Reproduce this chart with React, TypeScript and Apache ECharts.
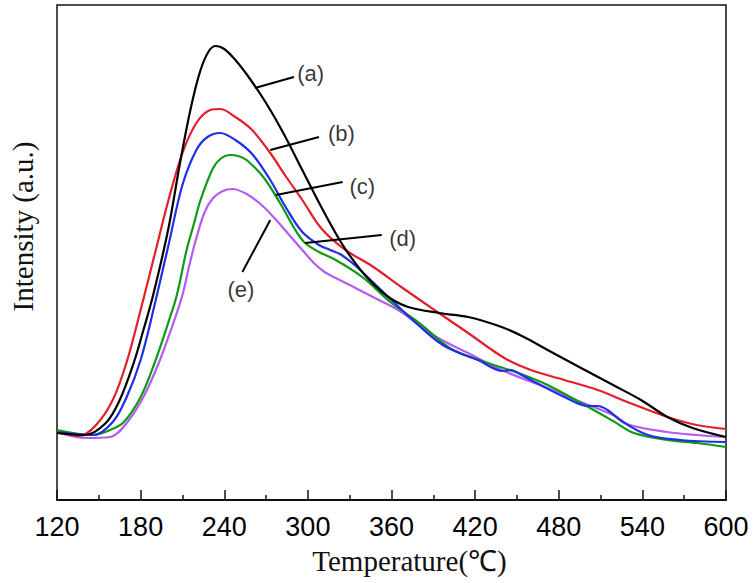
import React, { useEffect, useRef } from "react";
import * as echarts from "echarts";

// Temperature (°C), intensity (a.u.)
const curveA: [number, number][] = [
  [120, 67], [140, 65], [155, 77], [165, 100], [175, 137], [182, 170], [189, 205], [200, 272],
  [208, 335], [216, 392], [223, 430], [229, 449], [234, 454], [240, 451], [248, 440], [258, 422],
  [270, 397], [282, 368], [296, 330], [310, 292], [325, 255], [339, 228], [350, 212], [360, 201],
  [372, 193], [394, 187], [415, 183], [439, 173], [455, 163], [472, 150], [496, 132], [519, 115],
  [539, 100], [558, 83], [576, 72], [600, 63],
];
const curveB: [number, number][] = [
  [120, 68], [136, 64], [148, 75], [160, 100], [170, 138], [180, 190], [190, 245], [200, 300],
  [210, 347], [220, 377], [230, 390], [237, 391], [248, 383], [260, 370], [273, 347], [284, 324],
  [296, 300], [310, 271], [327, 250], [346, 234], [367, 213], [394, 187], [415, 167], [441, 142],
  [460, 130], [484, 120], [508, 110], [531, 97], [558, 83], [579, 75], [600, 71],
];
const curveC: [number, number][] = [
  [120, 68], [146, 65], [160, 78], [170, 103], [180, 140], [190, 195], [200, 255], [210, 315],
  [220, 350], [228, 363], [237, 367], [248, 360], [260, 346], [273, 320], [284, 293], [296, 268],
  [308, 255], [316, 250], [323, 246], [331, 238], [339, 228], [360, 200], [380, 174], [398, 154],
  [422, 140], [440, 129], [446, 130], [452, 126], [460, 120], [484, 103], [501, 94], [508, 94],
  [515, 90], [526, 78], [544, 65], [567, 60], [600, 58],
];
const curveD: [number, number][] = [
  [120, 70], [146, 65], [158, 70], [168, 78], [180, 103], [190, 137], [200, 178], [206, 205],
  [213, 250], [218, 275], [223, 300], [232, 332], [238, 342], [244, 345], [250, 344], [256, 340],
  [268, 323], [280, 297], [291, 270], [298, 257], [308, 248], [320, 240], [339, 223], [360, 197],
  [380, 177], [403, 151], [427, 138], [451, 127], [472, 115], [496, 97], [519, 79], [534, 67],
  [558, 60], [579, 57], [600, 53],
];
const curveE: [number, number][] = [
  [120, 68], [141, 62], [158, 63], [170, 77], [182, 103], [193, 137], [203, 175], [210, 205],
  [215, 235], [220, 262], [226, 288], [232, 302], [239, 309], [246, 311], [256, 306], [266, 296],
  [276, 282], [286, 266], [296, 250], [305, 236], [312, 228], [320, 222], [330, 215], [351, 200],
  [367, 188], [391, 164], [415, 147], [439, 130], [472, 112], [496, 98], [519, 85], [531, 75],
  [558, 68], [579, 65], [600, 63],
];

const seriesNames = ["(a)", "(b)", "(c)", "(d)", "(e)"];
const seriesColors = ["#000000", "#e41e2b", "#1f2fe6", "#0f9a14", "#b45cf2"];
// leader lines: from a point on the curve to the label side, then label position
const leaderFrom: [number, number][] = [[262, 412], [273, 350], [277, 305], [298, 257], [273, 280]];
const leaderTo: [number, number][] = [[290, 423], [308, 363], [325, 318], [353, 265], [253, 228]];
const labelAt: [number, number][] = [[302, 427], [324, 367], [339, 314], [368, 262], [252, 211]];

const xTicks = [120, 180, 240, 300, 360, 420, 480, 540, 600];

export default function App() {
  const ref = useRef<HTMLDivElement>(null);
  useEffect(() => {
    if (!ref.current) return;
    const chart = echarts.init(ref.current, null, { renderer: "svg" });
    const curves = [curveA, curveB, curveC, curveD, curveE];
    const series: any[] = curves.map((c, i) => ({
      type: "line",
      name: seriesNames[i],
      data: c,
      smooth: 0.35,
      showSymbol: false,
      symbol: "none",
      lineStyle: { color: seriesColors[i], width: 2.2 },
      z: 5 - i,
      markLine: {
        silent: true,
        symbol: "none",
        animation: false,
        label: { show: false },
        lineStyle: { color: "#000", width: 2, type: "solid" },
        data: [[{ coord: leaderFrom[i] }, { coord: leaderTo[i] }]],
      },
    }));
    series.push({
      type: "scatter",
      symbol: "circle",
      symbolSize: 1,
      itemStyle: { color: "rgba(0,0,0,0)" },
      data: labelAt.map((p, i) => ({ value: p, name: seriesNames[i] })),
      label: {
        show: true,
        position: "inside",
        formatter: (p: any) => p.name,
        color: "#000",
        fontSize: 22,
        fontFamily: "Liberation Sans, Arial, sans-serif",
      },
      z: 10,
    });
    chart.setOption({
      animation: false,
      backgroundColor: "#fff",
      grid: {
        left: 53,
        right: 28,
        top: 5,
        bottom: 83,
        show: true,
        borderColor: "#111",
        borderWidth: 1.5,
        backgroundColor: "transparent",
      },
      xAxis: {
        type: "value",
        min: 120,
        max: 600,
        interval: 60,
        name: "Temperature(℃)",
        nameLocation: "middle",
        nameGap: 46,
        nameTextStyle: {
          fontFamily: "Liberation Serif, Times New Roman, serif",
          fontSize: 29,
          color: "#111",
          padding: [0, 0, 0, 36],
        },
        axisLine: { show: true, lineStyle: { color: "#111", width: 2 } },
        axisTick: { show: true, inside: true, length: 10, lineStyle: { color: "#111", width: 1.5 } },
        minorTick: { show: true, splitNumber: 2, length: 5, lineStyle: { color: "#111", width: 1.5 } },
        splitLine: { show: false },
        axisLabel: {
          margin: 13,
          fontSize: 27,
          color: "#000",
          fontFamily: "Liberation Sans, Arial, sans-serif",
          formatter: (v: number) => (xTicks.includes(v) ? String(v) : ""),
        },
      },
      yAxis: {
        type: "value",
        min: 0,
        max: 495,
        name: "Intensity (a.u.)",
        nameLocation: "middle",
        nameGap: 20,
        nameTextStyle: {
          fontFamily: "Liberation Serif, Times New Roman, serif",
          fontSize: 29,
          color: "#111",
          padding: [0, 0, 0, 52],
        },
        axisLine: { show: false },
        axisTick: { show: false },
        axisLabel: { show: false },
        splitLine: { show: false },
      },
      series,
    });
    return () => chart.dispose();
  }, []);
  return (
    <div
      ref={ref}
      style={{ position: "fixed", left: 0, top: 0, width: 754, height: 583 }}
    />
  );
}
